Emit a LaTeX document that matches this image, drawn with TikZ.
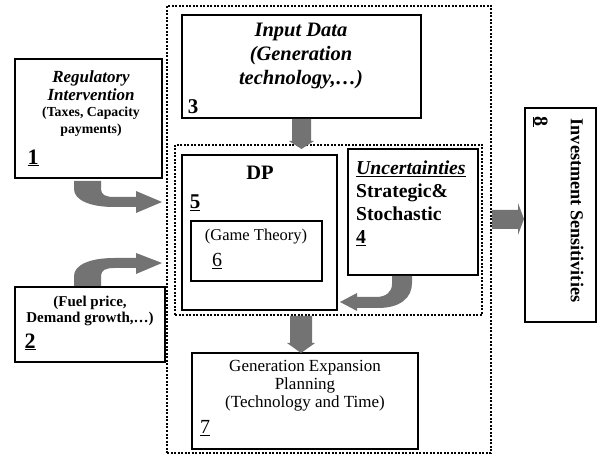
\documentclass[tikz,border=0pt]{standalone}
\usepackage{fontspec}
\setmainfont{Liberation Serif}
\newcommand\fsz[2]{\fontsize{#1}{#2}\selectfont}
\definecolor{arrowgray}{RGB}{115,115,115}
\begin{document}
\begin{tikzpicture}[x=1pt,y=-1pt,
 box/.style={draw, line width=2.8pt, inner sep=0pt, anchor=center},
 dotbox/.style={draw, line width=2.8pt, dash pattern=on 2pt off 1.5pt, inner sep=0pt},
 blockarrow/.style={fill=arrowgray, draw=none},
 lbl/.style={inner sep=0pt, align=center},
 num/.style={inner sep=0pt},
]
\useasboundingbox (0,0) rectangle (598,457);

% containers
\node[dotbox, minimum width=324pt, minimum height=447pt] (outer) at (329,229.5) {};
\node[dotbox, minimum width=307pt, minimum height=170pt] (inner) at (328.5,230) {};

% boxes
\node[box, minimum width=147pt, minimum height=119pt] (b1) at (88.5,118.5) {};
\node[box, minimum width=150pt, minimum height=75pt] (b2) at (90,324.5) {};
\node[box, minimum width=239pt, minimum height=103pt] (b3) at (301.5,66.5) {};
\node[box, minimum width=155pt, minimum height=155pt] (b5) at (259.5,232.5) {};
\node[box, minimum width=131pt, minimum height=60pt] (b6) at (256.5,251) {};
\node[box, minimum width=130pt, minimum height=126pt] (b4) at (413,212) {};
\node[box, minimum width=226pt, minimum height=96pt] (b7) at (305,401) {};
\node[box, minimum width=71pt, minimum height=214pt] (b8) at (560.5,215) {};

% texts
\node[lbl, font=\fsz{17}{17.5}\bfseries\itshape] (t1a) at (91,85.5)
  {Regulatory\\Intervention};
\node[lbl, font=\fsz{13.8}{17.5}\bfseries] (t1b) at (91,121.5)
  {(Taxes, Capacity\\payments)};
\node[num, font=\fsz{22}{22}\bfseries] (n1) at (33,158) {\underline{1}};

\node[lbl, font=\fsz{15}{16.5}\bfseries] (t2) at (90,311)
  {(Fuel price,\\Demand growth,…)};
\node[num, font=\fsz{22}{22}\bfseries] (n2) at (30,342) {\underline{2}};

\node[lbl, font=\fsz{20.5}{24}\bfseries\itshape] (t3) at (301,56)
  {Input Data\\(Generation\\technology,…)};
\node[num, font=\fsz{21}{21}\bfseries] (n3) at (193,107) {3};

\node[lbl, font=\fsz{20.5}{20}\bfseries] (t5) at (260,173) {DP};
\node[num, font=\fsz{21}{21}\bfseries] (n5) at (195,203) {\underline{5}};

\node[lbl, font=\fsz{16.5}{18}] (t6) at (256,237) {(Game Theory)};
\node[num, font=\fsz{20}{20}] (n6) at (217,261) {\underline{6}};

\node[lbl, align=left, anchor=west, font=\fsz{19.7}{23}\bfseries] (t4) at (356,203)
  {\underline{\textit{Uncertainties}}\\Strategic\&\\Stochastic\\\underline{4}};

\node[lbl, font=\fsz{17}{18}] (t7) at (305,386)
  {Generation Expansion\\Planning\\(Technology and Time)};
\node[num, font=\fsz{20}{20}] (n7) at (205,428) {\underline{7}};

\node[lbl, rotate=-90, font=\fsz{18.2}{20}\bfseries] (t8) at (577,210.5) {Investment Sensitivities};
\node[num, rotate=-90, font=\fsz{20}{20}\bfseries] (n8) at (540,122) {\underline{8}};

% block arrows
\fill[blockarrow] (74,181) -- (101,181) -- (101,189)
  .. controls (101,195) and (106,197) .. (114,197) -- (136,197) -- (136,191)
  -- (162,202) -- (136,213) -- (136,207) -- (114,207)
  .. controls (90,207) and (74,200) .. (74,189) -- cycle;
\fill[blockarrow] (74,286) -- (101,286) -- (101,276)
  .. controls (101,270) and (106,268) .. (114,268) -- (136,268) -- (136,274)
  -- (162,263) -- (136,253) -- (136,258) -- (114,258)
  .. controls (90,258) and (74,265) .. (74,276) -- cycle;
\fill[blockarrow] (292,119) -- (311,119) -- (311,141) -- (314,141) -- (301.5,149)
  -- (289,141) -- (292,141) -- cycle;
\fill[blockarrow] (392,276) -- (412,276) -- (412,283)
  .. controls (412,298) and (400,308) .. (378,308) -- (357,308) -- (357,311)
  -- (340,302) -- (357,293) -- (357,297) -- (376,297)
  .. controls (386,297) and (392,292) .. (392,284) -- cycle;
\fill[blockarrow] (290,316) -- (312,316) -- (312,343) -- (315,343) -- (301,353)
  -- (287,343) -- (290,343) -- cycle;
\fill[blockarrow] (492,210) -- (518,210) -- (518,203) -- (524,219) -- (518,235)
  -- (518,229) -- (492,229) -- cycle;
\end{tikzpicture}
\end{document}
